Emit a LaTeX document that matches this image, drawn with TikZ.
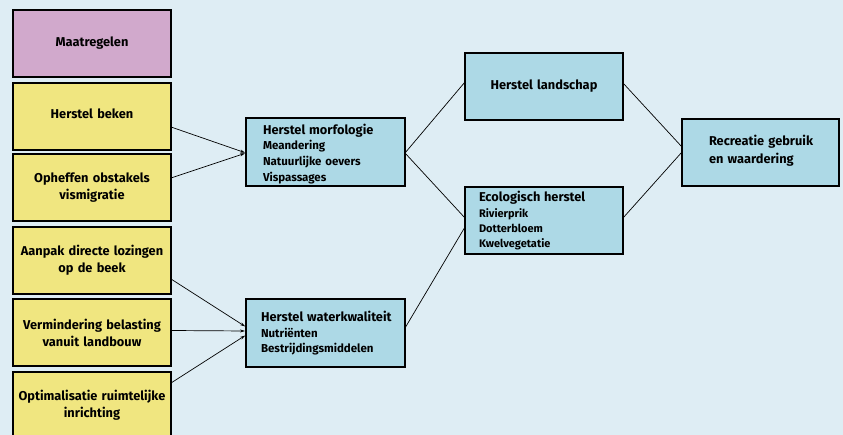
\documentclass[tikz,border=0pt]{standalone}
\usepackage{fontspec}
\setmainfont{Fira Sans}
\usetikzlibrary{arrows.meta,calc}
\definecolor{bg}{HTML}{DEEDF4}
\definecolor{ylw}{HTML}{F0E680}
\definecolor{prp}{HTML}{D1A9CC}
\definecolor{blu}{HTML}{ADD9E6}
\begin{document}
\begin{tikzpicture}[x=1pt,y=-1pt,
  box/.style={draw=black,line width=1.8pt,inner sep=0pt,outer sep=0pt,anchor=north west,font=\bfseries\fontsize{12.8}{17}\selectfont},
  ybox/.style={box,fill=ylw,minimum width=158pt,minimum height=67pt,align=center,text width=156pt},
  bbox/.style={box,fill=blu,minimum width=159pt,minimum height=68pt},
  link/.style={line width=0.7pt,black},
  arr/.style={link,-{Stealth[length=5pt,width=3pt]},shorten >=1pt}]
\useasboundingbox (0,0) rectangle (843,435);
\clip (0,0) rectangle (843,435);
\fill[bg] (0,0) rectangle (843,435);
% left column
\node[ybox,fill=prp] (maat) at (13,10) {Maatregelen};
\node[ybox] (beken) at (13,83) {Herstel beken\\[-12pt]\mbox{}};
\node[ybox] (ophef) at (13,154) {Opheffen obstakels\\vismigratie};
\node[ybox] (aanpak) at (13,227) {Aanpak directe lozingen\\op de beek};
\node[ybox] (verm) at (13,299) {Vermindering belasting\\vanuit landbouw};
\node[ybox] (optim) at (13,372) {Optimalisatie ruimtelijke\\inrichting};
% middle
\node[bbox,align=left,text width=125pt,inner xsep=17pt,font=\bfseries\fontsize{11.5}{15.7}\selectfont] (morf) at (246,118)
  {\rule{0pt}{14pt}\mbox{\fontsize{12.8}{15.7}\selectfont Herstel morfologie}\\Meandering\\Natuurlijke oevers\\Vispassages};
\node[bbox,align=left,text width=129pt,inner xsep=15pt,font=\bfseries\fontsize{11.5}{15}\selectfont] (water) at (246,299)
  {\mbox{\fontsize{12.8}{15}\selectfont Herstel waterkwaliteit}\\[1pt]Nutriënten\\Bestrijdingsmiddelen};
\node[bbox,minimum width=158pt,minimum height=67pt,align=center,text width=156pt] (land) at (465,53)
  {Herstel landschap\\[-14pt]\mbox{}};
\node[bbox,minimum width=158pt,minimum height=67pt,align=left,text width=130pt,inner xsep=14pt,font=\bfseries\fontsize{11}{15.3}\selectfont] (eco) at (465,187)
  {\mbox{\fontsize{12.8}{15.3}\selectfont Ecologisch herstel}\\[1pt]Rivierprik\\Dotterbloem\\Kwelvegetatie};
\node[bbox,minimum width=157pt,minimum height=67pt,align=left,text width=103pt,inner xsep=27pt] (recr) at (682,119)
  {\mbox{Recreatie gebruik}\\[1pt]\mbox{en waardering}\\[-10pt]\mbox{}};
% connectors
\draw[arr] ([yshift=-10.5pt]beken.east) -- ([yshift=-1pt]morf.west);
\draw[arr] ([yshift=9.5pt]ophef.east) -- ([yshift=-1pt]morf.west);
\draw[arr] ([yshift=-18.5pt]aanpak.east) -- ([yshift=6pt]water.west);
\draw[arr] ([yshift=2pt]verm.east) -- ([yshift=2pt]water.west);
\draw[arr] ([yshift=22.5pt]optim.east) -- ([yshift=-2pt]water.west);
\draw[link] ([yshift=-1pt]morf.east) -- ([yshift=4.5pt]land.west);
\draw[link] ([yshift=-1pt]morf.east) -- ([yshift=2.5pt]eco.west);
\draw[link] ([yshift=5pt]water.east) -- ([yshift=-6.5pt]eco.west);
\draw[link] ([yshift=3.5pt]land.east) -- ([yshift=5.5pt]recr.west);
\draw[link] ([yshift=2.5pt]eco.east) -- ([yshift=0.5pt]recr.west);
\end{tikzpicture}
\end{document}
